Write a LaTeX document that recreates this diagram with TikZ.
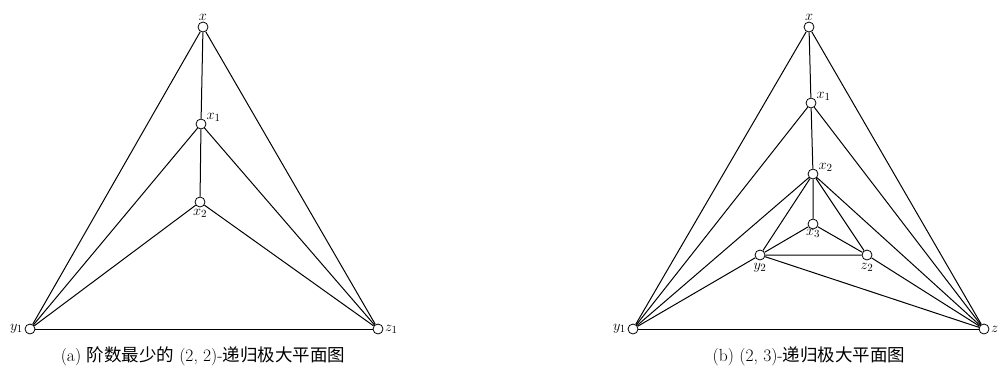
\documentclass[tikz,border=0pt]{standalone}
\usepackage{fontspec}
\newfontfamily\cjk{Noto Sans CJK SC}
\usetikzlibrary{positioning}

\begin{document}
\begin{tikzpicture}[
  x=1pt, y=-1pt,
  vtx/.style={circle, draw, thick, fill=white, inner sep=0pt, minimum size=10pt},
  edge/.style={line width=1pt},
  lbl/.style={font=\fontsize{15.5}{18}\selectfont, inner sep=1.5pt},
  captext/.style={font=\fontsize{17.5}{20}\selectfont},
]
  \useasboundingbox (0,0) rectangle (999,368);

  % (a)
  \node[vtx] (xa) at (203,27) {};
  \node[vtx] (xa1) at (201,124) {};
  \node[vtx] (xa2) at (200,202) {};
  \node[vtx] (ya1) at (30,329) {};
  \node[vtx] (za1) at (378,329) {};
  \node[lbl, above=-1pt of xa] {$x$};
  \node[lbl, above right=-3pt and 0pt of xa1] {$x_1$};
  \node[lbl, below=0pt of xa2] {$x_2$};
  \node[lbl, left=0pt of ya1] {$y_1$};
  \node[lbl, right=0pt of za1] {$z_1$};

  \draw[edge] (xa) -- (ya1) (xa) -- (za1) (xa) -- (xa1);
  \draw[edge] (xa1) -- (ya1) (xa1) -- (za1) (xa1) -- (xa2);
  \draw[edge] (xa2) -- (ya1) (xa2) -- (za1);
  \draw[edge] (ya1) -- (za1);

  \node[captext] (capa) at (203,356) {(a) {\cjk 阶数最少的} (2, 2)-{\cjk 递归极大平面图}};

  % (b)
  \node[vtx] (xb) at (809,27) {};
  \node[vtx] (xb1) at (811,103) {};
  \node[vtx] (xb2) at (813,174) {};
  \node[vtx] (xb3) at (813,224) {};
  \node[vtx] (yb2) at (760,255) {};
  \node[vtx] (zb2) at (867,255) {};
  \node[vtx] (yb1) at (633,329) {};
  \node[vtx] (zb1) at (984,329) {};
  \node[lbl, above=-1pt of xb] {$x$};
  \node[lbl, above right=-3pt and 0pt of xb1] {$x_1$};
  \node[lbl, above right=-3pt and 0pt of xb2] {$x_2$};
  \node[lbl, below=-2pt of xb3] {$x_3$};
  \node[lbl, below=1pt of yb2] {$y_2$};
  \node[lbl, below=1pt of zb2] {$z_2$};
  \node[lbl, left=0pt of yb1] {$y_1$};
  \node[lbl, right=0pt of zb1] {$z$};

  \draw[edge] (xb) -- (yb1) (xb) -- (zb1) (xb) -- (xb1);
  \draw[edge] (xb1) -- (yb1) (xb1) -- (zb1) (xb1) -- (xb2);
  \draw[edge] (xb2) -- (yb1) (xb2) -- (zb1) (xb2) -- (yb2) (xb2) -- (zb2) (xb2) -- (xb3);
  \draw[edge] (xb3) -- (yb2) (xb3) -- (zb2) (yb2) -- (zb2);
  \draw[edge] (yb2) -- (yb1) (yb2) -- (zb1) (zb2) -- (zb1);
  \draw[edge] (yb1) -- (zb1);

  \node[captext] (capb) at (809,356) {(b) (2, 3)-{\cjk 递归极大平面图}};
\end{tikzpicture}
\end{document}
